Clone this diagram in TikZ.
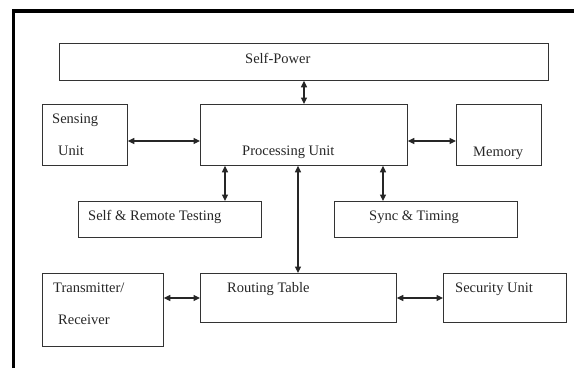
\documentclass[tikz,border=0pt]{standalone}
\usepackage{fontspec}
\setmainfont{Liberation Serif}
\usetikzlibrary{arrows.meta}
\tikzset{
  box/.style={draw=black!80, line width=0.8pt, anchor=north west, inner sep=0pt},
  txt/.style={anchor=base west, inner sep=0pt, text=black!85, font=\fontsize{14.5}{17}\selectfont},
  link/.style={draw=black!85, line width=1.2pt, {Triangle[length=6.5pt,width=6pt]}-{Triangle[length=6.5pt,width=6pt]}},
  frame/.style={line width=3.8pt, black}
}
\begin{document}
\begin{tikzpicture}[x=1pt, y=-1pt]
\useasboundingbox (0,0) rectangle (574,368);
% outer frame (top and left edges)
\draw[frame] (13.5,368) -- (13.5,11.3) -- (576,11.3);

% blocks
\node[box, minimum width=489pt, minimum height=37pt] (power) at (59,43) {};
\node[box, minimum width=85pt,  minimum height=61pt] (sense) at (42,104) {};
\node[box, minimum width=207pt, minimum height=61pt] (proc)  at (200,104) {};
\node[box, minimum width=85pt,  minimum height=61pt] (mem)   at (456,104) {};
\node[box, minimum width=183pt, minimum height=36pt] (test)  at (78,201) {};
\node[box, minimum width=183pt, minimum height=36pt] (sync)  at (334,201) {};
\node[box, minimum width=121pt, minimum height=73pt] (trx)   at (42,273) {};
\node[box, minimum width=196pt, minimum height=49pt] (route) at (200,273) {};
\node[box, minimum width=123pt, minimum height=49pt] (sec)   at (443,273) {};

% labels
\node[txt] (tpower) at (245,63)  {Self-Power};
\node[txt] (tsense1) at (52,123) {Sensing};
\node[txt] (tsense2) at (58,155) {Unit};
\node[txt] (tproc)  at (242,155) {Processing Unit};
\node[txt] (tmem)   at (473,156) {Memory};
\node[txt] (ttest)  at (88,220)  {Self \& Remote Testing};
\node[txt] (tsync)  at (369,220) {Sync \& Timing};
\node[txt] (ttrx1)  at (53,292)  {Transmitter/};
\node[txt] (ttrx2)  at (58,324)  {Receiver};
\node[txt] (troute) at (227,292) {Routing Table};
\node[txt] (tsec)   at (455,292) {Security Unit};

% connections
\draw[link] ([xshift=245pt]power.south west) -- ([xshift=104pt]proc.north west);
\draw[link] ([yshift=-37pt]sense.north east) -- ([yshift=-37pt]proc.north west);
\draw[link] ([yshift=-37pt]proc.north east) -- ([yshift=-37pt]mem.north west);
\draw[link] ([xshift=25pt]proc.south west) -- ([xshift=147pt]test.north west);
\draw[link] ([xshift=183pt]proc.south west) -- ([xshift=49pt]sync.north west);
\draw[link] ([xshift=98pt]proc.south west) -- ([xshift=98pt]route.north west);
\draw[link] ([yshift=-25pt]trx.north east) -- ([yshift=-25pt]route.north west);
\draw[link] ([yshift=-25pt]route.north east) -- ([yshift=-25pt]sec.north west);
\end{tikzpicture}
\end{document}
